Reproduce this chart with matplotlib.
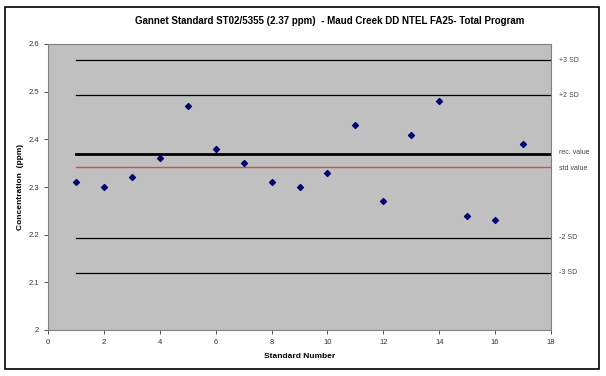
import matplotlib
matplotlib.use('Agg')
import matplotlib.pyplot as plt
from matplotlib.patches import Rectangle

plt.rcParams['font.family'] = ['Liberation Sans', 'DejaVu Sans']

# Standard results
standard_number = list(range(1, 18))
concentration = [2.31, 2.30, 2.32, 2.36, 2.47, 2.38, 2.35, 2.31, 2.30,
                 2.33, 2.43, 2.27, 2.41, 2.48, 2.24, 2.23, 2.39]

# Control lines (value, label)
rec_value = 2.37
std_value = 2.343
sd_values = [2.566, 2.492, 2.194, 2.120]
sd_labels = ['+3 SD', '+2 SD', '-2 SD', '-3 SD']

x_ticks = list(range(0, 19, 2))
y_ticks = [2, 2.1, 2.2, 2.3, 2.4, 2.5, 2.6]

fig = plt.figure(figsize=(6.06, 3.76), dpi=100)
fig.patches.append(Rectangle((5 / 606, 7 / 376), 594 / 606, 362 / 376,
                             transform=fig.transFigure, fill=False,
                             edgecolor='black', linewidth=1.2))

ax = fig.add_axes([48 / 606, 46 / 376, 503 / 606, 286 / 376])
ax.set_facecolor('#c0c0c0')

line_x = [1, 18]
for v in sd_values:
    ax.plot(line_x, [v, v], color='black', linewidth=0.9)
ax.plot(line_x, [rec_value, rec_value], color='black', linewidth=2)
ax.plot(line_x, [std_value, std_value], color='#d2504a', linewidth=1)

ax.scatter(standard_number, concentration, marker='D', s=9,
           color='#000070', zorder=3)

ax.set_xlim(0, 18)
ax.set_ylim(2, 2.6)
ax.set_xticks(x_ticks)
ax.set_yticks(y_ticks)
ax.set_yticklabels(['2', '2.1', '2.2', '2.3', '2.4', '2.5', '2.6'])
ax.tick_params(labelsize=5.5, length=3, width=0.6, colors='#333333',
               labelcolor='#333333')
for s in ax.spines.values():
    s.set_color('#808080')
    s.set_linewidth(0.8)

# labels to the right of the plot
for v, lab in zip(sd_values, sd_labels):
    ax.text(18.3, v, lab, fontsize=5, color='#444444', va='center')
ax.text(18.3, rec_value + 0.003, 'rec. value', fontsize=5, color='#444444', va='center')
ax.text(18.3, std_value - 0.004, 'std value', fontsize=5, color='#444444', va='center')

ax.set_xlabel('Standard Number', fontsize=6, fontweight='bold', labelpad=5)
ax.set_ylabel('Concentration  (ppm)', fontsize=6, fontweight='bold', labelpad=3)
fig.text(330 / 606, 1 - 21 / 376, 'Gannet Standard ST02/5355 (2.37 ppm)  - Maud Creek DD NTEL FA25- Total Program',
         fontsize=7, fontweight='bold', ha='center', va='center')

fig.savefig('out.png', dpi=100)
